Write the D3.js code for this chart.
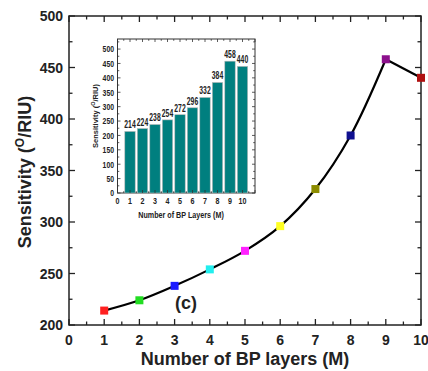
<!DOCTYPE html>
<html><head><meta charset="utf-8">
<script src="https://cdn.jsdelivr.net/npm/d3@7"></script>
<style>body{margin:0;background:#fff}svg{display:block}</style>
</head><body><svg id="c" width="428" height="371"></svg>
<script>
const layers = [1,2,3,4,5,6,7,8,9,10];
const sensitivity = [214,224,238,254,272,296,332,384,458,440];
const markerColors = ["#ff2020","#22dd22","#1a1aff","#22eeee","#ff22ff","#ffff22","#8c8c00","#101090","#8c108c","#b01010"];
const xTicks = [0,1,2,3,4,5,6,7,8,9,10];
const yTicks = [200,250,300,350,400,450,500];
const insetYTicks = [0,50,100,150,200,250,300,350,400,450,500];

const svg = d3.select("#c");
const F = "Liberation Sans, Arial, sans-serif";

// Condensed text helper: draw text scaled horizontally
function ctext(g, xx, yy, str, size, anchor, sx){
  return g.append("text")
    .attr("transform",`translate(${xx},${yy}) scale(${sx||0.72},1)`)
    .attr("text-anchor",anchor||"middle")
    .attr("font-family",F).attr("font-weight","bold").attr("font-size",size).attr("fill","#222").text(str);
}

// Main chart
const x = d3.scaleLinear().domain([0,10]).range([69,421]);
const y = d3.scaleLinear().domain([200,500]).range([325,16]);

const main = svg.append("g");
main.append("rect").attr("x",69).attr("y",16).attr("width",352).attr("height",309)
  .attr("fill","none").attr("stroke","#222").attr("stroke-width",1.5);

const xMinor = d3.range(0,10.01,0.5);
const yMinor = d3.range(200,500.1,25);
xMinor.forEach(v=>{
  const major = Math.abs(v-Math.round(v))<1e-6;
  const len = major?6:3.5;
  main.append("line").attr("x1",x(v)).attr("x2",x(v)).attr("y1",325).attr("y2",325-len).attr("stroke","#222").attr("stroke-width",1.3);
  main.append("line").attr("x1",x(v)).attr("x2",x(v)).attr("y1",16).attr("y2",16+len).attr("stroke","#222").attr("stroke-width",1.3);
});
yMinor.forEach(v=>{
  const major = v%50===0;
  const len = major?6:3.5;
  main.append("line").attr("x1",69).attr("x2",69+len).attr("y1",y(v)).attr("y2",y(v)).attr("stroke","#222").attr("stroke-width",1.3);
  main.append("line").attr("x1",421).attr("x2",421-len).attr("y1",y(v)).attr("y2",y(v)).attr("stroke","#222").attr("stroke-width",1.3);
});
main.selectAll(".xl").data(xTicks).enter().append("text")
  .attr("x",d=>x(d)).attr("y",345).attr("text-anchor","middle")
  .attr("font-family",F).attr("font-weight","bold").attr("font-size",14).attr("fill","#222").text(d=>d);
main.selectAll(".yl").data(yTicks).enter().append("text")
  .attr("x",63).attr("y",d=>y(d)+5).attr("text-anchor","end")
  .attr("font-family",F).attr("font-weight","bold").attr("font-size",14).attr("fill","#222").text(d=>d);
main.append("text").attr("x",245).attr("y",365).attr("text-anchor","middle")
  .attr("font-family",F).attr("font-weight","bold").attr("font-size",18).attr("fill","#222")
  .text("Number of BP layers (M)");
const yt = main.append("text").attr("transform","translate(31,172) rotate(-90)").attr("text-anchor","middle")
  .attr("font-family",F).attr("font-weight","bold").attr("font-size",18).attr("fill","#222");
yt.append("tspan").text("Sensitivity (");
yt.append("tspan").attr("font-size",12).attr("dy",-7).text("O");
yt.append("tspan").attr("dy",7).text("/RIU)");

const pts = layers.map((l,i)=>[l,sensitivity[i]]);
const smooth = d3.line().x(d=>x(d[0])).y(d=>y(d[1])).curve(d3.curveCatmullRom.alpha(0.5));
const straight = d3.line().x(d=>x(d[0])).y(d=>y(d[1]));
main.append("path").attr("d",smooth(pts.slice(0,9))).attr("fill","none").attr("stroke","#000").attr("stroke-width",2.2);
main.append("path").attr("d",straight(pts.slice(8))).attr("fill","none").attr("stroke","#000").attr("stroke-width",2.2);
main.selectAll(".m").data(pts).enter().append("rect")
  .attr("x",d=>x(d[0])-4).attr("y",d=>y(d[1])-4).attr("width",8).attr("height",8)
  .attr("fill",(d,i)=>markerColors[i]);
main.append("text").attr("x",186).attr("y",309).attr("text-anchor","middle")
  .attr("font-family",F).attr("font-weight","bold").attr("font-size",18).attr("fill","#222").text("(c)");

// Inset
const ix = d3.scaleLinear().domain([0,11]).range([117.5,255]);
const iy = d3.scaleLinear().domain([0,535]).range([193,39]);
const ins = svg.append("g");
ins.append("rect").attr("x",117.5).attr("y",39).attr("width",137.5).attr("height",154)
  .attr("fill","#fff").attr("stroke","#333").attr("stroke-width",1);
ins.selectAll(".b").data(pts).enter().append("rect")
  .attr("x",d=>ix(d[0])-5.2).attr("y",d=>iy(d[1])).attr("width",10.4).attr("height",d=>iy(0)-iy(d[1]))
  .attr("fill","#007f7f").attr("stroke","#bbb").attr("stroke-width",0.6);
pts.forEach(d=>ctext(ins, ix(d[0]), iy(d[1])-3, d[1], 10, "middle", 0.68));
d3.range(0,11.01,0.5).forEach(v=>{
  const major = Math.abs(v-Math.round(v))<1e-6;
  const len = major?3:1.8;
  ins.append("line").attr("x1",ix(v)).attr("x2",ix(v)).attr("y1",193).attr("y2",193-len).attr("stroke","#333").attr("stroke-width",0.8);
  ins.append("line").attr("x1",ix(v)).attr("x2",ix(v)).attr("y1",39).attr("y2",39+len).attr("stroke","#333").attr("stroke-width",0.8);
});
d3.range(0,535,25).forEach(v=>{
  const major = v%50===0;
  const len = major?3:1.8;
  ins.append("line").attr("x1",117.5).attr("x2",117.5+len).attr("y1",iy(v)).attr("y2",iy(v)).attr("stroke","#333").attr("stroke-width",0.8);
  ins.append("line").attr("x1",255).attr("x2",255-len).attr("y1",iy(v)).attr("y2",iy(v)).attr("stroke","#333").attr("stroke-width",0.8);
});
xTicks.forEach(d=>ctext(ins, ix(d), 204, d, 9.5, "middle", 0.75));
insetYTicks.forEach(d=>ctext(ins, 114, iy(d)+3.3, d, 9.5, "end", 0.72));
ctext(ins, 181, 218, "Number of BP Layers (M)", 9, "middle", 0.8);
const iyt = ins.append("text").attr("transform","translate(98,116) rotate(-90)").attr("text-anchor","middle")
  .attr("font-family",F).attr("font-weight","bold").attr("font-size",7.5).attr("fill","#222");
iyt.append("tspan").text("Sensitivity (");
iyt.append("tspan").attr("font-size",5.5).attr("dy",-3).text("O");
iyt.append("tspan").attr("dy",3).text("/RIU)");
</script></body></html>
